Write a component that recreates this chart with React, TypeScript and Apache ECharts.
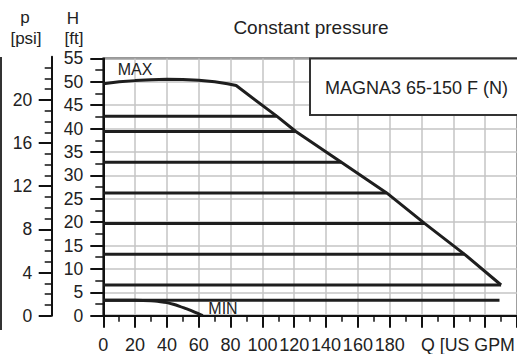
import React, { useEffect, useRef } from "react";
import * as echarts from "echarts";

// Constant-pressure curves: head in ft and the flow where each line ends (US GPM)
const constHeadsFt = [3.28, 6.56, 13.12, 19.69, 26.25, 32.81, 39.37, 42.65];
const constEndsGpm = [249, 250, 227.1, 202.1, 178.1, 149.6, 121, 109];

// MAX curve
const maxQ = [0, 10, 20, 30, 40, 50, 60, 70, 78, 83.5, 109, 121, 149.6, 178.1, 202.1, 227.1, 250];
const maxH = [49.6, 50.0, 50.25, 50.45, 50.55, 50.5, 50.35, 50.0, 49.6, 49.2, 42.65, 39.37, 32.81, 26.25, 19.69, 13.12, 6.56];

// MIN curve
const minQ = [0, 20, 30, 36, 40, 44, 48, 52, 56, 60, 62.5];
const minH = [3.28, 3.28, 3.2, 3.0, 2.8, 2.45, 2.0, 1.5, 1.0, 0.4, 0];

// Axis ticks
const xTickLabels = [0, 20, 40, 60, 80, 100, 120, 140, 160, 180];
const psiTickLabels = [0, 4, 8, 12, 16, 20];

const FONT = "'Liberation Sans', Arial, Helvetica, sans-serif";
const INK = "#1e1e1e";

export default function App() {
  const ref = useRef<HTMLDivElement>(null);
  useEffect(() => {
    if (!ref.current) return;
    const chart = echarts.init(ref.current, undefined, { renderer: "svg" });

    const plotLeft = 103.3;
    const plotTop = 58.4;
    const plotBottom = 315.7;
    const plotH = plotBottom - plotTop;
    const pxPerFt = plotH / 55;
    const psiMaxFt = 24 * 2.3067;
    const psiH = psiMaxFt * pxPerFt;

    const lineStyle = { color: INK, width: 3 };
    const series: any[] = [];
    constHeadsFt.forEach((h, i) => {
      series.push({
        type: "line",
        xAxisIndex: 0,
        yAxisIndex: 0,
        data: [[0, h], [constEndsGpm[i], h]],
        showSymbol: false,
        symbol: "none",
        lineStyle,
        silent: true,
      });
    });
    series.push({
      type: "line",
      xAxisIndex: 0,
      yAxisIndex: 0,
      data: maxQ.map((q, i) => [q, maxH[i]]),
      symbol: "none",
      lineStyle,
      silent: true,
    });
    series.push({
      type: "line",
      xAxisIndex: 0,
      yAxisIndex: 0,
      data: minQ.map((q, i) => [q, minH[i]]),
      symbol: "none",
      smooth: 0.3,
      lineStyle,
      silent: true,
    });

    const textBase = { fontFamily: FONT, fill: "#222" };

    chart.setOption({
      animation: false,
      textStyle: { fontFamily: FONT },
      grid: [
        {
          left: plotLeft,
          top: plotTop,
          width: 416,
          height: plotH,
          show: true,
          borderColor: "#333",
          borderWidth: 2,
          backgroundColor: "transparent",
        },
        {
          left: 51.7,
          top: plotBottom - psiH,
          width: 10,
          height: psiH,
          show: false,
        },
      ],
      xAxis: [
        {
          type: "value",
          gridIndex: 0,
          min: 0,
          max: 260,
          interval: 20,
          axisLine: { show: true, onZero: false, lineStyle: { color: "#111", width: 2 } },
          axisTick: { show: true, length: 12, lineStyle: { color: "#111", width: 2 } },
          minorTick: { show: true, splitNumber: 2, length: 6, lineStyle: { color: "#111", width: 1.5 } },
          splitLine: { show: true, lineStyle: { color: "#c4c4c4", width: 1.5 } },
          axisLabel: {
            show: true,
            customValues: xTickLabels,
            formatter: (v: number) => String(v),
            fontSize: 18,
            color: "#222",
            margin: 20.3,
            hideOverlap: false,
          },
        },
        { type: "value", gridIndex: 1, show: false, min: 0, max: 1 },
      ],
      yAxis: [
        {
          type: "value",
          gridIndex: 0,
          min: 0,
          max: 55,
          interval: 5,
          axisLine: { show: true, onZero: false, lineStyle: { color: "#111", width: 2 } },
          axisTick: { show: true, length: 13, lineStyle: { color: "#111", width: 2 } },
          minorTick: { show: true, splitNumber: 2, length: 8, lineStyle: { color: "#111", width: 1.5 } },
          splitLine: { show: true, lineStyle: { color: "#c4c4c4", width: 1.5 } },
          axisLabel: { fontSize: 17.5, color: "#222", margin: 20 },
        },
        {
          type: "value",
          gridIndex: 1,
          position: "left",
          min: 0,
          max: 24,
          interval: 4,
          axisLine: { show: true, onZero: false, lineStyle: { color: "#111", width: 2 } },
          axisTick: { show: true, length: 13, customValues: psiTickLabels, lineStyle: { color: "#111", width: 2 } },
          minorTick: { show: true, splitNumber: 4, length: 7, lineStyle: { color: "#111", width: 1.5 } },
          splitLine: { show: false },
          axisLabel: { fontSize: 17.5, color: "#222", margin: 19.4, customValues: psiTickLabels },
        },
      ],
      series,
      graphic: [
        {
          type: "text",
          x: 311,
          y: 27,
          style: { ...textBase, text: "Constant pressure", fontSize: 19, textAlign: "center", textVerticalAlign: "middle" },
        },
        {
          type: "rect",
          shape: { x: 310, y: plotTop, width: 230, height: 56.6 },
          style: { fill: "#fff", stroke: "#333", lineWidth: 2 },
          z: 10,
        },
        {
          type: "text",
          x: 325,
          y: 88,
          z: 11,
          style: { ...textBase, text: "MAGNA3 65-150 F (N)", fontSize: 18, textAlign: "left", textVerticalAlign: "middle" },
        },
        {
          type: "text",
          x: 117.7,
          y: 69.5,
          z: 11,
          style: { ...textBase, text: "MAX", fontSize: 16, textAlign: "left", textVerticalAlign: "middle" },
        },
        {
          type: "text",
          x: 208.3,
          y: 308,
          z: 11,
          style: { ...textBase, text: "MIN", fontSize: 16, textAlign: "left", textVerticalAlign: "middle" },
        },
        {
          type: "text",
          x: 421,
          y: 345,
          style: { ...textBase, text: "Q [US GPM", fontSize: 17.8, textAlign: "left", textVerticalAlign: "middle" },
        },
        {
          type: "text",
          x: 25,
          y: 17,
          style: { ...textBase, text: "p", fontSize: 17, textAlign: "center", textVerticalAlign: "middle" },
        },
        {
          type: "text",
          x: 26,
          y: 38.5,
          style: { ...textBase, text: "[psi]", fontSize: 17, textAlign: "center", textVerticalAlign: "middle" },
        },
        {
          type: "text",
          x: 73,
          y: 18,
          style: { ...textBase, text: "H", fontSize: 17, textAlign: "center", textVerticalAlign: "middle" },
        },
        {
          type: "text",
          x: 74,
          y: 38.5,
          style: { ...textBase, text: "[ft]", fontSize: 17, textAlign: "center", textVerticalAlign: "middle" },
        },
        {
          type: "line",
          shape: { x1: 1, y1: 57, x2: 1, y2: 330 },
          style: { stroke: "#333", lineWidth: 2 },
        },
      ],
    });
    return () => chart.dispose();
  }, []);
  return (
    <div
      ref={ref}
      style={{ position: "fixed", left: 0, top: 0, width: 517, height: 354, background: "#fff" }}
    />
  );
}
